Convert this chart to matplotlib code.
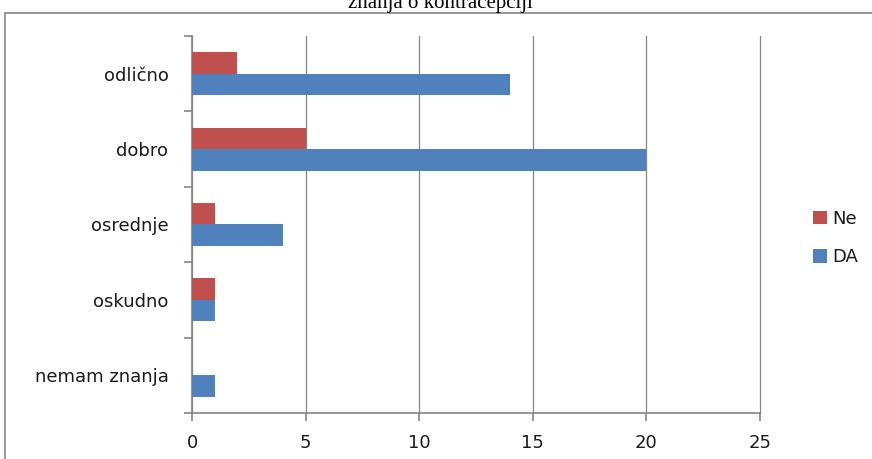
import matplotlib.pyplot as plt
import matplotlib.patches as mpatches
import numpy as np

categories = ['nemam znanja', 'oskudno', 'osrednje', 'dobro', 'odlično']
da_values = [1, 1, 4, 20, 14]
ne_values = [0, 1, 1, 5, 2]

red = '#C0504D'
blue = '#4F81BD'
grey = '#868686'

W, H = 872, 459
fig = plt.figure(figsize=[W / 100, H / 100], dpi=100)

# outer chart frame
fig.patches.append(mpatches.Rectangle(
    (5 / W, -0.1), 1.2, 1 - 13 / H + 0.1, transform=fig.transFigure,
    fill=False, edgecolor=grey, linewidth=1.2))

# title, top part runs off the image
fig.text(440 / W, 1 - 8 / H, 'znanja o kontracepciji', ha='center', va='baseline',
         fontsize=15, family='Liberation Serif')

ax = fig.add_axes([192 / W, 1 - 413 / H, (760 - 192) / W, (413 - 36) / H])

y = np.arange(len(categories))
h = 0.285
ax.barh(y - h / 2, da_values, h, color=blue, label='DA', zorder=3)
ax.barh(y + h / 2, ne_values, h, color=red, label='Ne', zorder=3)

ax.set_xlim(0, 25)
ax.set_ylim(-0.5, len(categories) - 0.5)
ax.set_xticks(np.arange(0, 26, 5))
ax.set_yticks(y)
ax.set_yticklabels(categories)
ax.set_yticks(np.arange(-0.5, len(categories), 1), minor=True)

ax.grid(True, axis='x', color=grey, linewidth=0.9, zorder=0)
for gl in ax.get_xgridlines():
    gl.set_clip_on(False)
for s in ['top', 'right']:
    ax.spines[s].set_visible(False)
for s in ['left', 'bottom']:
    ax.spines[s].set_color(grey)
    ax.spines[s].set_linewidth(1.2)

fs = 13
txt = '#1a1a1a'
ax.tick_params(axis='y', which='major', length=0, pad=17, labelsize=fs, labelcolor=txt)
ax.tick_params(axis='y', which='minor', length=6, color=grey, width=1.2, direction='out')
ax.tick_params(axis='x', length=6, color=grey, width=1.2, direction='out', pad=9,
               labelsize=fs, labelcolor=txt)
for lab in ax.get_xticklabels() + ax.get_yticklabels():
    lab.set_family('DejaVu Sans')

handles, labels = ax.get_legend_handles_labels()
leg = fig.legend(handles[::-1], labels[::-1], loc='center left',
                 bbox_to_anchor=(797 / W, 1 - 238 / H), frameon=False,
                 handlelength=0.75, handleheight=0.75, handletextpad=0.3,
                 labelspacing=1.15, labelcolor=txt,
                 prop={'family': 'DejaVu Sans', 'size': fs})

fig.savefig('out.png', dpi=100)
